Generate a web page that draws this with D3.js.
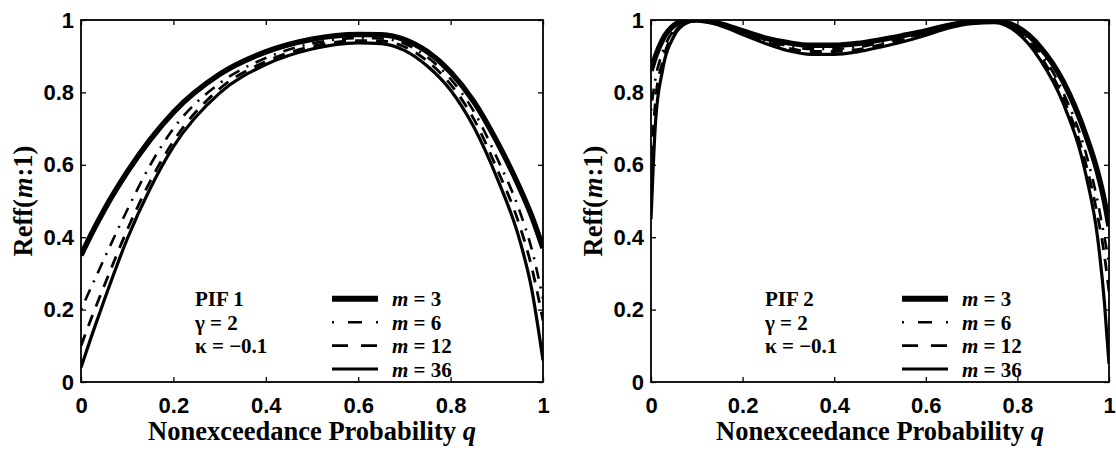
<!DOCTYPE html>
<html>
<head>
<meta charset="utf-8">
<script src="https://cdn.jsdelivr.net/npm/d3@7"></script>
<style>
  html, body { margin: 0; padding: 0; background: #fff; }
  svg { display: block; }
</style>
</head>
<body>
<svg id="chart" width="1116" height="454"></svg>
<script>
// ---------- data ----------
const qLeft  = [0, 0.025, 0.05, 0.1, 0.15, 0.2, 0.3, 0.4, 0.5, 0.6, 0.65, 0.7, 0.75, 0.8, 0.85, 0.9, 0.95, 0.975, 1];
const pif1_m3  = [0.35, 0.415, 0.475, 0.58, 0.67, 0.745, 0.85, 0.912, 0.947, 0.96, 0.959, 0.946, 0.912, 0.856, 0.775, 0.665, 0.535, 0.46, 0.37];
const pif1_m6  = [0.20, 0.27, 0.34, 0.475, 0.60, 0.70, 0.825, 0.895, 0.935, 0.95, 0.949, 0.935, 0.897, 0.837, 0.748, 0.62, 0.47, 0.37, 0.23];
const pif1_m12 = [0.10, 0.185, 0.265, 0.42, 0.555, 0.665, 0.81, 0.885, 0.927, 0.943, 0.942, 0.926, 0.886, 0.822, 0.727, 0.59, 0.43, 0.32, 0.17];
const pif1_m36 = [0.04, 0.135, 0.225, 0.395, 0.535, 0.65, 0.798, 0.877, 0.92, 0.937, 0.935, 0.916, 0.872, 0.806, 0.705, 0.565, 0.39, 0.26, 0.06];

const qRight = [0, 0.005, 0.01, 0.025, 0.05, 0.075, 0.1, 0.15, 0.2, 0.25, 0.3, 0.35, 0.4, 0.45, 0.5, 0.55, 0.6, 0.65, 0.7, 0.75, 0.8, 0.85, 0.9, 0.95, 0.975, 0.99, 1];
const pif2_m3  = [0.86, 0.88, 0.90, 0.945, 0.985, 0.998, 1.0, 0.99, 0.97, 0.95, 0.937, 0.93, 0.93, 0.935, 0.945, 0.957, 0.97, 0.985, 0.995, 0.997, 0.98, 0.925, 0.83, 0.68, 0.58, 0.50, 0.43];
const pif2_m6  = [0.75, 0.80, 0.84, 0.91, 0.972, 0.995, 1.0, 0.988, 0.966, 0.944, 0.928, 0.92, 0.92, 0.925, 0.937, 0.95, 0.965, 0.982, 0.993, 0.996, 0.973, 0.91, 0.80, 0.63, 0.50, 0.40, 0.33];
const pif2_m12 = [0.62, 0.70, 0.78, 0.885, 0.963, 0.993, 0.9995, 0.987, 0.963, 0.94, 0.922, 0.913, 0.913, 0.918, 0.931, 0.945, 0.962, 0.98, 0.992, 0.995, 0.97, 0.90, 0.785, 0.60, 0.46, 0.35, 0.25];
const pif2_m36 = [0.45, 0.60, 0.72, 0.86, 0.955, 0.99, 0.999, 0.985, 0.96, 0.935, 0.915, 0.905, 0.905, 0.912, 0.925, 0.94, 0.958, 0.978, 0.99, 0.993, 0.965, 0.89, 0.77, 0.57, 0.40, 0.22, 0.05];

const mValues = [3, 6, 12, 36];
const xTicks = [0, 0.2, 0.4, 0.6, 0.8, 1];
const xTickLabels = ["0", "0.2", "0.4", "0.6", "0.8", "1"];
const yTicks = [0, 0.2, 0.4, 0.6, 0.8, 1];
const yTickLabels = ["0", "0.2", "0.4", "0.6", "0.8", "1"];
const panelNames = ["PIF 1", "PIF 2"];
const paramLines = ["\u03B3 = 2", "\u03BA = \u22120.1"];
const xTitleParts = [["Nonexceedance Probability", false], ["q", true]];
const yTitleParts = [["Reff(", false], ["m", true], [":1)", false]];

// ---------- styles ----------
const seriesWidth = [5.5, 2.6, 2.8, 3.2];
const seriesDash  = [null, "2,8,12,8", "12,9", null];
const legendDash  = [null, "2,14,14,14,2", "16,13", null];
const serif = "'Liberation Serif', 'Times New Roman', Times, serif";
const tickFont = "'Liberation Sans', Arial, Helvetica, sans-serif";

const svg = d3.select("#chart");

// place a sequence of text pieces (some italic) as separate text elements
function richText(parent, x, y, parts, anchor, size) {
  const gap = size * 0.25;
  const nodes = parts.map(([t, it]) => parent.append("text")
    .attr("y", y).attr("font-family", serif).attr("font-size", size)
    .attr("font-weight", "bold").attr("font-style", it ? "italic" : "normal")
    .attr("fill", "#000").text(t));
  const widths = nodes.map(n => n.node().getComputedTextLength());
  const gaps = parts.map((p, i) => {
    if (i === 0) return 0;
    const prev = parts[i - 1][0], cur = p[0];
    return (prev.endsWith("(") || cur.startsWith(":") || cur.startsWith(")")) ? 1 : gap;
  });
  const total = widths.reduce((a, b) => a + b, 0) + gaps.reduce((a, b) => a + b, 0);
  let cx = anchor === "middle" ? x - total / 2 : x;
  nodes.forEach((n, i) => { cx += gaps[i]; n.attr("x", cx); cx += widths[i]; });
}

const panels = [
  { left: 81, right: 543, top: 20, bottom: 382, q: qLeft, series: [pif1_m3, pif1_m6, pif1_m12, pif1_m36], name: panelNames[0], id: "p1" },
  { left: 651, right: 1109, top: 20, bottom: 382, q: qRight, series: [pif2_m3, pif2_m6, pif2_m12, pif2_m36], name: panelNames[1], id: "p2" }
];

panels.forEach(p => {
  const x = d3.scaleLinear().domain([0, 1]).range([p.left, p.right]);
  const y = d3.scaleLinear().domain([0, 1]).range([p.bottom, p.top]);
  const g = svg.append("g");

  svg.append("clipPath").attr("id", "clip-" + p.id)
    .append("rect").attr("x", p.left).attr("y", p.top)
    .attr("width", p.right - p.left).attr("height", p.bottom - p.top);

  const line = d3.line()
    .x((d, i) => x(p.q[i]))
    .y(d => y(d))
    .curve(d3.curveMonotoneX);
  const cg = g.append("g").attr("clip-path", "url(#clip-" + p.id + ")");
  p.series.forEach((s, k) => {
    cg.append("path")
      .attr("d", line(s))
      .attr("fill", "none")
      .attr("stroke", "#000")
      .attr("stroke-width", seriesWidth[k])
      .attr("stroke-dasharray", seriesDash[k])
      .attr("stroke-linejoin", "round");
  });

  const ax = g.append("g").attr("transform", `translate(0,${p.bottom})`)
    .call(d3.axisBottom(x).tickValues(xTicks).tickFormat((d, i) => xTickLabels[i]).tickSizeInner(-5).tickSizeOuter(0).tickPadding(15));
  const ay = g.append("g").attr("transform", `translate(${p.left},0)`)
    .call(d3.axisLeft(y).tickValues(yTicks).tickFormat((d, i) => yTickLabels[i]).tickSizeInner(-5).tickSizeOuter(0).tickPadding(7));
  g.append("g").attr("transform", `translate(0,${p.top})`)
    .call(d3.axisTop(x).tickValues(xTicks).tickFormat("").tickSizeInner(-5).tickSizeOuter(0));
  g.append("g").attr("transform", `translate(${p.right},0)`)
    .call(d3.axisRight(y).tickValues(yTicks).tickFormat("").tickSizeInner(-5).tickSizeOuter(0));
  g.selectAll(".domain").remove();
  g.selectAll(".tick line").attr("stroke", "#000").attr("stroke-width", 1.3);
  [ax, ay].forEach(a => a.selectAll("text")
    .attr("font-family", tickFont).attr("font-size", 22).attr("font-weight", "bold").attr("fill", "#000"));

  g.append("rect").attr("x", p.left).attr("y", p.top)
    .attr("width", p.right - p.left).attr("height", p.bottom - p.top)
    .attr("fill", "none").attr("stroke", "#000").attr("stroke-width", 1.8);

  // x title
  richText(g, (p.left + p.right) / 2, p.bottom + 58, xTitleParts, "middle", 26.5);

  // y title
  const yg = g.append("g").attr("transform", `translate(${p.left - 49},${(p.top + p.bottom) / 2}) rotate(-90)`);
  richText(yg, 0, 0, yTitleParts, "middle", 26.5);

  // annotation block
  const fs = 21;
  const rowH = 23.4;
  const baseY = p.bottom - 5.5 - 3 * rowH;
  [p.name].concat(paramLines).forEach((t, i) => {
    richText(g, p.left + 114, baseY + i * rowH, [[t, false]], "start", fs);
  });

  // legend
  mValues.forEach((m, k) => {
    const yy = baseY + k * rowH;
    g.append("line")
      .attr("x1", p.left + 251).attr("x2", p.left + 297)
      .attr("y1", yy - 7.5).attr("y2", yy - 7.5)
      .attr("stroke", "#000").attr("stroke-width", k === 0 ? 6 : seriesWidth[k])
      .attr("stroke-dasharray", legendDash[k]);
    richText(g, p.left + 311, yy, [["m", true], ["= " + m, false]], "start", fs);
  });
});
</script>
</body>
</html>
